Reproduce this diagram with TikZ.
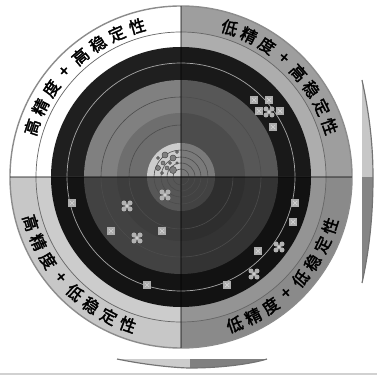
\documentclass[tikz,border=0pt]{standalone}
\usepackage{fontspec}
\newfontfamily\cjk[FakeBold=2.2]{Noto Sans CJK SC}
\usetikzlibrary{calc}

\tikzset{
  ring text/.style={font=\cjk\fontsize{14}{14}\selectfont, inner sep=0pt},
  thin ring/.style={black!70, line width=0.5},
  shot/.pic={
    \fill[black!32] (-3.8,-3.8) rectangle (3.8,3.8);
    \draw[black!18, line width=0.6] (-2.2,-2.2) -- (2.2,2.2) (-2.2,2.2) -- (2.2,-2.2);
  },
  xshot/.pic={
    \foreach \dx/\dy in {-3/-3,3/-3,-3/3,3/3,0/0}
      \fill[black!30] (\dx,\dy) circle (2.5);
    \fill[black!15] (0,0) circle (1.2);
  }
}

\begin{document}
\begin{tikzpicture}[x=0.03cm, y=0.03cm]
  \useasboundingbox (-181,-199) rectangle (196,177);

  % quadrant bands: start angle / colours from outside in
  \foreach \a/\cA/\cB/\cC/\cD/\cE/\cF in {
      90/white/white/black!88/black!50/black!57/black!20,
      0/black!38/black!32/black!90/black!66/black!70/black!52,
      180/black!22/black!20/black!92/black!74/black!76/black!66,
      270/black!46/black!42/black!93/black!80/black!82/black!74}{
    \foreach \r/\c in {171/\cA,145/\cB,130/\cC,97/\cD,64/\cE,34/\cF}
      \fill[\c] (0,0) -- (\a:\r) arc[start angle=\a, end angle=\a+90, radius=\r] -- cycle;
  }

  % ring lines
  \draw[black!45, line width=1.2] (0,0) circle (171);
  \draw[black!60, line width=0.6] (0,0) circle (145);
  \draw[black!35, line width=0.6] (0,0) circle (114);
  \foreach \r in {80,52,27,20,14,8}
    \draw[thin ring] (0,0) circle (\r);

  % quadrant dividers
  \draw[black, opacity=0.35, line width=1] (0,171) -- (0,-171);
  \draw[black, opacity=0.35, line width=1] (-171,0) -- (171,0);

  % bubbles in the centre
  \foreach \x/\y/\r in {-16/22/3,-8/19/3,-23/19/1.5,-4/25/1.5,-18/14/2,-11/14/1.5,
                        -23/9/2.5,-14/9/2,-8/7/3.5,-19/4/1.5,-4/14/1.2}
    \filldraw[fill=black!50, draw=black!72, line width=0.4] (\x,\y) circle (\r);

  % hits
  \foreach \p in {(73,77),(88,77),(78,66),(99,66),(92,50),
                  (114,-26),(112,-45),(77,-74),(46,-108),
                  (-109,-26),(-70,-54),(-19,-54),(-34,-108)}
    \pic at \p {shot};
  \foreach \p in {(88,65),(98,-70),(73,-97),(-54,-29),(-44,-61),(-16,-18)}
    \pic at \p {xshot};

  % labels along the outer ring
  \foreach \ch [count=\i, evaluate=\i as \t using 161.5-(\i-1)*7.9] in {高,精,度,+,高,稳,定,性}
    \node[ring text, rotate=\t-90] (tl\i) at (\t:157) {\ch};
  \foreach \ch [count=\i, evaluate=\i as \t using 72-(\i-1)*7.6] in {低,精,度,+,高,稳,定,性}
    \node[ring text, rotate=\t-90] (tr\i) at (\t:157) {\ch};
  \foreach \ch [count=\i, evaluate=\i as \t using 197+(\i-1)*7.6] in {高,精,度,+,低,稳,定,性}
    \node[ring text, rotate=\t+90] (bl\i) at (\t:157) {\ch};
  \foreach \ch [count=\i, evaluate=\i as \t using 290+(\i-1)*7.4] in {低,精,度,+,低,稳,定,性}
    \node[ring text, rotate=\t+90] (br\i) at (\t:157) {\ch};

  % cut edge of the next disc, right
  \begin{scope}
    \clip (181,97) .. controls (189,60) and (192,30) .. (192,0)
      .. controls (192,-35) and (189,-70) .. (181,-106) -- cycle;
    \fill[black!22] (181,0) rectangle (195,100);
    \fill[black!48] (181,0) rectangle (195,-110);
  \end{scope}
  \draw[black!55, line width=1] (181,97) .. controls (189,60) and (192,30) .. (192,0)
      .. controls (192,-35) and (189,-70) .. (181,-106);

  % cut edge of the next disc, bottom
  \begin{scope}
    \clip (-64,-182) .. controls (-30,-189) and (0,-191) .. (9,-191)
      .. controls (40,-191) and (70,-187) .. (86,-182) -- cycle;
    \fill[black!20] (-64,-180) rectangle (9,-195);
    \fill[black!50] (9,-180) rectangle (86,-195);
  \end{scope}
  \draw[black!55, line width=1] (-64,-182) .. controls (-30,-189) and (0,-191) .. (9,-191)
      .. controls (40,-191) and (70,-187) .. (86,-182);
  \draw[black!18, line width=1.5] (-181,-197) -- (196,-197);

\end{tikzpicture}
\end{document}
